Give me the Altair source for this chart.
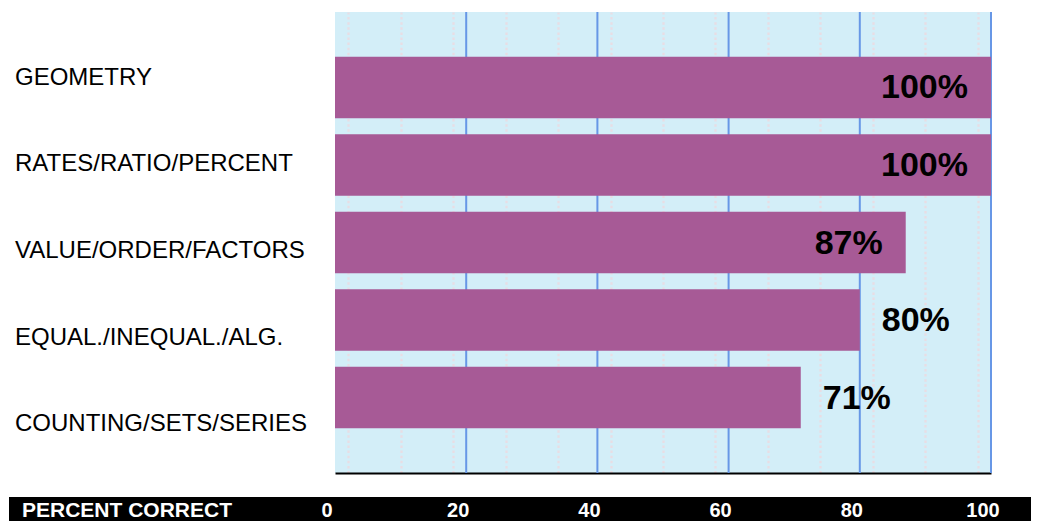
import altair as alt
import pandas as pd

categories = ["GEOMETRY", "RATES/RATIO/PERCENT", "VALUE/ORDER/FACTORS",
              "EQUAL./INEQUAL./ALG.", "COUNTING/SETS/SERIES"]
values = [100, 100, 87, 80, 71]
labels = ["100%", "100%", "87%", "80%", "71%"]
tick_values = [0, 20, 40, 60, 80, 100]
axis_title = "PERCENT CORRECT"

df = pd.DataFrame({"cat": categories, "value": values, "label": labels})
ticks_df = pd.DataFrame({"t": tick_values})
title_df = pd.DataFrame({"title": [axis_title]})

FONT = "Liberation Sans"
BAR = "#a75a96"
GRID_BLUE = "#6797e6"

xscale = alt.Scale(domain=[0, 100], nice=False, zero=True)
yband = alt.Scale(domain=categories, paddingInner=0.206, paddingOuter=0.577)

dot_values = list(range(2, 100, 2))

base_x = alt.X(
    "value:Q", scale=xscale,
    axis=alt.Axis(values=dot_values, grid=True, gridColor="#e8dde4",
                  gridDash=[2.5, 2.6], gridWidth=2.3, labels=False, ticks=False,
                  domain=True, domainColor="black", domainWidth=2, title=None),
)

bars = alt.Chart(df).mark_bar(color=BAR).encode(
    x=base_x,
    y=alt.Y("cat:N", scale=yband, axis=None, sort=categories),
)

blue_grid = alt.Chart(ticks_df).transform_filter("datum.t > 0").mark_rule(
    color=GRID_BLUE, strokeWidth=2
).encode(x=alt.X("t:Q", scale=xscale))

inside = alt.Chart(df).transform_filter("datum.value >= 85").mark_text(
    align="right", baseline="middle", dx=-23, dy=1, font=FONT, fontSize=34,
    fontWeight="bold", color="black"
).encode(
    x=alt.X("value:Q", scale=xscale),
    y=alt.Y("cat:N", scale=yband, axis=None, sort=categories),
    text="label:N",
)

outside = alt.Chart(df).transform_filter("datum.value < 85").mark_text(
    align="left", baseline="middle", dx=22, dy=1, font=FONT, fontSize=34,
    fontWeight="bold", color="black"
).encode(
    x=alt.X("value:Q", scale=xscale),
    y=alt.Y("cat:N", scale=yband, axis=None, sort=categories),
    text="label:N",
)

main = alt.layer(blue_grid, bars, inside, outside)

cat_labels = alt.Chart(df).mark_text(
    align="left", baseline="middle", dy=8.5, font=FONT, fontSize=24, color="black"
).encode(
    x=alt.value(-320),
    y=alt.Y("cat:N", scale=alt.Scale(type="point", domain=categories, padding=0.66),
            axis=None, sort=categories),
    text="cat:N",
)

band = alt.Chart(title_df).mark_rect(color="black").encode(
    x=alt.value(-326), x2=alt.value(696), y=alt.value(485), y2=alt.value(509)
)

tick_text = alt.Chart(ticks_df).mark_text(
    align="center", baseline="alphabetic", dx=-8, font=FONT, fontSize=20,
    fontWeight="bold", color="white"
).encode(
    x=alt.X("t:Q", scale=xscale),
    y=alt.value(504.7),
    text=alt.Text("t:Q"),
)

title_text = alt.Chart(title_df).mark_text(
    align="left", baseline="alphabetic", font=FONT, fontSize=21,
    fontWeight="bold", color="white"
).encode(
    x=alt.value(-313), y=alt.value(504.7), text="title:N"
)

chart = alt.layer(main, cat_labels, band, tick_text, title_text).resolve_scale(
    y="independent"
).properties(
    width=656, height=461,
    padding={"left": 327, "top": 4, "right": 40, "bottom": 50},
    autosize=alt.AutoSizeParams(type="none"),
).configure_view(stroke=None, fill="#d3eef8")

chart.save("out.html", embed_options={"renderer": "svg", "actions": False})
